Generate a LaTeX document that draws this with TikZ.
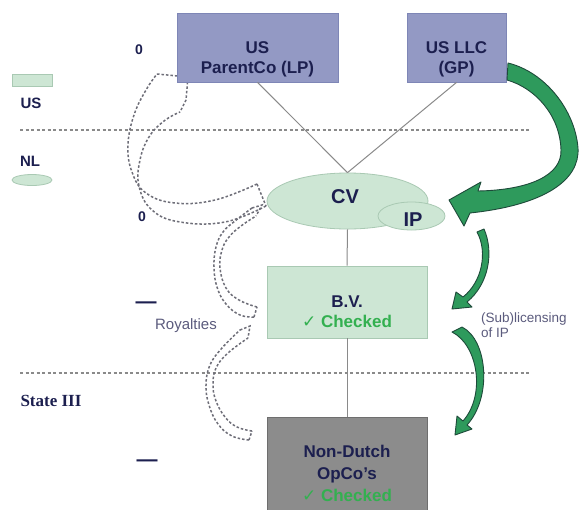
\documentclass[tikz,border=0pt]{standalone}
\usepackage{fontspec}
\setmainfont{Liberation Sans}
\newfontfamily\serifbold{Liberation Serif}
\newfontfamily\symfont{DejaVu Sans}
\usetikzlibrary{shapes.geometric}
\definecolor{navy}{HTML}{1C1F4F}
\definecolor{boxblue}{HTML}{9399C4}
\definecolor{boxblueline}{HTML}{7E86B6}
\definecolor{boxgreen}{HTML}{CDE6D4}
\definecolor{boxgreenline}{HTML}{A9C9B3}
\definecolor{boxgray}{HTML}{8C8C8C}
\definecolor{boxgrayline}{HTML}{6E6E6E}
\definecolor{checkgreen}{HTML}{33B050}
\definecolor{softtext}{HTML}{5B5B7D}
\definecolor{linegray}{HTML}{8A8A8A}
\definecolor{dashgray}{HTML}{6E6E78}
\definecolor{arrowgreen}{HTML}{2E9A5C}
\definecolor{arrowline}{HTML}{1E4A3A}
\begin{document}
\begin{tikzpicture}[x=1pt,y=-1pt,
  bluebox/.style={draw=boxblueline,fill=boxblue,line width=0.8pt,inner sep=0pt},
  greenbox/.style={draw=boxgreenline,fill=boxgreen,line width=0.8pt,inner sep=0pt},
  graybox/.style={draw=boxgrayline,fill=boxgray,line width=0.8pt,inner sep=0pt},
  greenell/.style={ellipse,draw=boxgreenline,fill=boxgreen,line width=0.8pt,inner sep=0pt},
  boxtext/.style={align=center,text=navy,font=\bfseries\fontsize{17}{20}\selectfont,inner sep=0pt},
  bigtext/.style={text=navy,font=\bfseries\fontsize{20}{22}\selectfont,inner sep=0pt},
  sidetext/.style={text=navy,font=\bfseries\fontsize{15}{17}\selectfont,inner sep=0pt},
  softlbl/.style={text=softtext,font=\fontsize{14}{15}\selectfont,inner sep=0pt},
  conn/.style={draw=linegray,line width=1pt},
  sepline/.style={draw=linegray,line width=1.2pt,dash pattern=on 3pt off 2.5pt},
  hollow/.style={draw=dashgray,line width=1.5pt,dash pattern=on 2.5pt off 2pt},
  greenarrow/.style={fill=arrowgreen,draw=arrowline,line width=0.9pt,line join=round},
  chk/.style={text=checkgreen}
]
\useasboundingbox (0,0) rectangle (580,509);
\clip (0,0) rectangle (580,509);
\fill[white] (0,0) rectangle (580,509);

% separator lines
\coordinate (s1l) at (20,130); \coordinate (s1r) at (530,130);
\coordinate (s2l) at (20,373); \coordinate (s2r) at (530,373);
\draw[sepline] (s1l) -- (s1r);
\draw[sepline] (s2l) -- (s2r);

% dashed hollow arrows (royalties)
\draw[hollow] plot[smooth,tension=0.7] coordinates {(257,184) (215,200) (175,203) (146,193) (132,172) (128,145) (134,115) (146,90) (157,74)};
\draw[hollow] plot[smooth,tension=0.7] coordinates {(266,206) (225,222) (180,222) (152,210) (139,186) (140,160) (149,137) (164,121) (180,112)};
\draw[hollow] (157,74) -- (188,77) -- (186,100) -- (180,112);
\draw[hollow] (257,184) -- (266,206);

\draw[hollow] plot[smooth,tension=0.7] coordinates {(254,317) (240,315) (226,304) (217,287) (214,267) (216,247) (223,232) (235,221) (252,208)};
\draw[hollow] plot[smooth,tension=0.7] coordinates {(257,307) (239,300) (226,288) (220,268) (222,250) (229,237) (241,226) (256,216)};
\draw[hollow] (252,208) -- (262,205) -- (256,216);
\draw[hollow] (254,317) -- (257,307);

\draw[hollow] plot[smooth,tension=0.7] coordinates {(249,440) (232,436) (218,424) (209,405) (206,385) (210,365) (222,348) (240,330)};
\draw[hollow] plot[smooth,tension=0.7] coordinates {(252,431) (237,427) (225,417) (216,401) (213,385) (216,368) (228,353) (248,338)};
\draw[hollow] (240,330) -- (250,326) -- (248,338);
\draw[hollow] (249,440) -- (252,431);

% boxes
\node[bluebox,minimum width=161pt,minimum height=69pt] (parent) at (257.5,47.5) {};
\node[bluebox,minimum width=99pt,minimum height=69pt] (llc) at (456.5,47.5) {};
\node[greenell,minimum width=161pt,minimum height=56pt] (cv) at (347.5,201) {};
\node[greenell,minimum width=67pt,minimum height=28pt] (ip) at (411.5,216) {};
\node[greenbox,minimum width=160pt,minimum height=72pt] (bv) at (347,302) {};
\node[graybox,minimum width=160pt,minimum height=110pt,anchor=north] (opco) at (347,417) {};

% connectors
\draw[conn] (parent.south) -- (cv.north);
\draw[conn] (llc.south) -- (cv.north);
\draw[conn] (cv.south) -- (bv.north);
\draw[conn] (bv.south) -- (opco.north);

% box texts
\node[boxtext] (parentT) at (257.5,59) {US\\ParentCo (LP)};
\node[boxtext] (llcT) at (456.5,59) {US LLC\\(GP)};
\node[bigtext] (cvT) at (345,197) {CV};
\node[bigtext] (ipT) at (413,220) {IP};
\node[boxtext] (bvT) at (347,312) {B.V.\\{\color{checkgreen}{\symfont\bfseries ✓} Checked}};
\node[boxtext,font=\bfseries\fontsize{17}{22}\selectfont] (opcoT) at (347,473) {Non-Dutch\\OpCo's\\{\color{checkgreen}{\symfont\bfseries ✓} Checked}};

% green arrows
\draw[greenarrow] (508,63) .. controls (545,72) and (575,110) .. (578,148)
  .. controls (580,180) and (545,205) .. (470,213) -- (464,226) -- (449,200) -- (481,182) -- (478,191)
  .. controls (530,190) and (562,175) .. (561,150)
  .. controls (560,115) and (535,88) .. (507,80) -- cycle;
\draw[greenarrow] (477,232) .. controls (488,252) and (482,282) .. (463,297) -- (456,292) -- (452,309) -- (472,307) -- (467,302)
  .. controls (489,284) and (494,252) .. (484,229) -- cycle;
\draw[greenarrow] (452,332) .. controls (478,345) and (486,395) .. (463,421) -- (457,416) -- (455,435) -- (472,429) -- (467,425)
  .. controls (492,398) and (488,340) .. (462,327) -- cycle;

% side labels
\node[text=navy,font=\bfseries\fontsize{14}{16}\selectfont,inner sep=0pt] (zero1) at (139,50) {0};
\node[text=navy,font=\bfseries\fontsize{14}{16}\selectfont,inner sep=0pt] (zero2) at (142,217) {0};
\node[text=navy,font=\bfseries\fontsize{21}{22}\selectfont,inner sep=0pt] (dash1) at (146,305) {—};
\node[text=navy,font=\bfseries\fontsize{21}{22}\selectfont,inner sep=0pt] (dash2) at (147,463) {—};
\node[greenbox,minimum width=40pt,minimum height=12pt] (legUS) at (32,80.5) {};
\node[sidetext] (usT) at (31,103) {US};
\node[sidetext] (nlT) at (30,161) {NL};
\node[greenell,minimum width=40pt,minimum height=11pt] (legNL) at (32,180) {};
\node[text=navy,font=\serifbold\bfseries\fontsize{17}{19}\selectfont,inner sep=0pt] (stateT) at (51,401) {State III};
\node[softlbl,font=\fontsize{15}{16}\selectfont] (royT) at (186,326) {Royalties};
\node[softlbl,anchor=west,align=left,font=\fontsize{13.5}{15.5}\selectfont] (subT) at (481,325) {(Sub)licensing\\of IP};
\end{tikzpicture}
\end{document}
